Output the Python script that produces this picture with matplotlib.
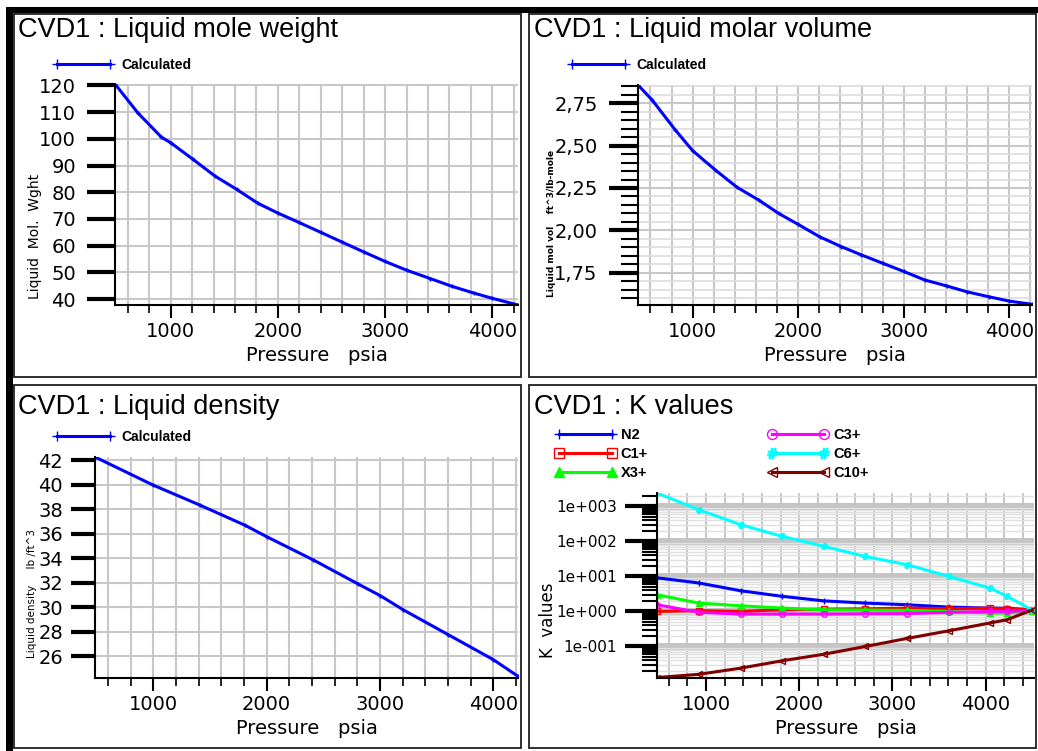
import matplotlib
matplotlib.use("Agg")
import matplotlib.pyplot as plt
import numpy as np
from matplotlib.patches import Rectangle
from matplotlib.ticker import MultipleLocator, FixedLocator, FuncFormatter, NullFormatter

# ---- data ----
mw_p = [480, 695, 913, 1000, 1208, 1411, 1614, 1816, 2000, 2196, 2399, 2601, 2804, 3000, 3202, 3421, 3623, 3825, 4000, 4240]
mw = [120.5, 109.6, 100.6, 98.5, 92.3, 86.1, 81.1, 75.8, 72.2, 68.7, 65.0, 61.3, 57.6, 54.1, 50.8, 47.7, 44.8, 42.3, 40.3, 37.8]

mv_p = [482, 615, 836, 1000, 1215, 1420, 1625, 1814, 2000, 2202, 2407, 2597, 2803, 3000, 3202, 3410, 3598, 3804, 4000, 4215]
mv = [2.858, 2.77, 2.592, 2.47, 2.356, 2.254, 2.179, 2.10, 2.035, 1.962, 1.904, 1.855, 1.805, 1.757, 1.706, 1.671, 1.637, 1.608, 1.582, 1.563]

den_p = [485, 1000, 1412, 1809, 2000, 2412, 2809, 3000, 3206, 3603, 4000, 4218]
den = [42.27, 39.97, 38.34, 36.7, 35.77, 33.87, 31.9, 30.97, 29.8, 27.77, 25.74, 24.38]

k_p = [475, 920, 1370, 1815, 2265, 2710, 3160, 3605, 4050, 4230, 4500]
k_n2 = [9.1, 6.5, 3.9, 2.7, 2.0, 1.73, 1.55, 1.33, 1.24, 1.24, 1.1]
k_c1 = [1.0, 1.05, 1.0, 1.12, 1.17, 1.19, 1.24, 1.2, 1.24, 1.2, 1.1]
k_x3 = [3.0, 1.73, 1.45, 1.25, 1.12, 1.1, 1.07, 1.0, 0.9, 0.9, 1.05]
k_c3 = [1.55, 0.95, 0.84, 0.84, 0.84, 0.86, 0.87, 0.94, 1.0, 1.0, 1.07]
k_c6 = [2400, 800, 300, 139, 72, 37, 21.5, 10, 4.6, 2.7, 1.1]
k_c10 = [0.013, 0.016, 0.024, 0.039, 0.060, 0.10, 0.17, 0.28, 0.47, 0.58, 1.1]

W, H = 1038, 751
fig = plt.figure(figsize=(W / 100, H / 100), dpi=100)
fig.patch.set_facecolor("white")

GRID = "#c8c8c8"
TICKF = "DejaVu Sans"
TITLEF = "Liberation Sans"


def fx(x):
    return x / W


def fy(y):
    return 1 - y / H


def box(x0, y0, x1, y1, **kw):
    fig.add_artist(Rectangle((fx(x0), fy(y1)), fx(x1) - fx(x0), fy(y0) - fy(y1),
                             transform=fig.transFigure, **kw))


def make_ax(l, t, r, b):
    return fig.add_axes([fx(l), fy(b), fx(r) - fx(l), fy(t) - fy(b)])


def style(ax, ylen, ypad):
    for s in ["top", "right"]:
        ax.spines[s].set_visible(False)
    for s in ["left", "bottom"]:
        ax.spines[s].set_linewidth(1.5)
    ax.set_axisbelow(True)
    ax.xaxis.set_major_locator(MultipleLocator(1000))
    ax.xaxis.set_minor_locator(MultipleLocator(200))
    ax.tick_params(axis="x", which="major", length=9, width=1.5, pad=3, labelsize=14)
    ax.tick_params(axis="x", which="minor", length=6, width=1.2)
    ax.tick_params(axis="y", which="major", length=ylen, width=3, pad=ypad, labelsize=14)
    ax.grid(True, axis="x", which="both", color=GRID, lw=1.5)
    ax.grid(True, axis="y", which="major", color=GRID, lw=1.5)
    for lab in ax.get_xticklabels() + ax.get_yticklabels():
        lab.set_fontfamily(TICKF)
    ax.set_xlabel("Pressure   psia", fontsize=14, family=TICKF, labelpad=4)


def calc_legend(ax, x, y):
    ax.legend(loc="center left", bbox_to_anchor=(fx(x), fy(y)), bbox_transform=fig.transFigure,
              frameon=False, handlelength=4.4, numpoints=2, borderpad=0, markerscale=2.2,
              handletextpad=0.5, borderaxespad=0,
              prop={"family": "Liberation Sans", "weight": "bold", "size": 10})


# panel frames
box(6, 7, 13, 751, color="black", lw=0)
box(6, 7, 1038, 13, color="black", lw=0)
for (x0, y0, x1, y1) in [(14, 14, 521, 377), (529, 14, 1036, 377), (14, 385, 521, 748), (529, 385, 1036, 748)]:
    box(x0, y0, x1, y1, fill=False, ec="#202020", lw=1.3)

# ---- panel 1 : liquid mole weight ----
ax1 = make_ax(115, 84, 518, 305)
ax1.plot(mw_p, mw, color="#0000ff", lw=2.2, marker="+", ms=3, mew=1, label="Calculated")
ax1.set_xlim(mw_p[0], mw_p[-1])
ax1.set_ylim(37.8, 120.5)
ax1.set_yticks([40, 50, 60, 70, 80, 90, 100, 110, 120])
style(ax1, 20, 8)
calc_legend(ax1, 53, 65)
fig.text(fx(18), fy(30), "CVD1 : Liquid mole weight", fontsize=19.5, family=TITLEF, va="center")
fig.text(fx(35), fy(236), "Liquid  Mol.  Wght", fontsize=10, family=TICKF, rotation=90, ha="center", va="center")

# ---- panel 2 : liquid molar volume ----
ax2 = make_ax(638, 85, 1032, 305)
ax2.plot(mv_p, mv, color="#0000ff", lw=2.2, marker="+", ms=3, mew=1, label="Calculated")
ax2.set_xlim(mv_p[0], mv_p[-1])
ax2.set_ylim(1.559, 2.858)
ax2.set_yticks([1.75, 2.0, 2.25, 2.5, 2.75])
ax2.yaxis.set_minor_locator(MultipleLocator(0.05))
ax2.yaxis.set_major_formatter(FuncFormatter(lambda v, p: f"{v:.2f}".replace(".", ",")))
style(ax2, 21, 8)
ax2.tick_params(axis="y", which="minor", length=12, width=1.5)
ax2.grid(True, axis="y", which="minor", color="#dcdcdc", lw=1.2)
calc_legend(ax2, 568, 65)
fig.text(fx(534), fy(30), "CVD1 : Liquid molar volume", fontsize=19.5, family=TITLEF, va="center")
fig.text(fx(551), fy(223), "Liquid mol vol    ft^3/lb-mole", fontsize=6.5, family=TICKF, rotation=90,
         ha="center", va="center", weight="bold")

# ---- panel 3 : liquid density ----
ax3 = make_ax(95, 457, 518, 678)
ax3.plot(den_p, den, color="#0000ff", lw=2.2, marker="+", ms=3, mew=1, label="Calculated")
ax3.set_xlim(den_p[0], den_p[-1])
ax3.set_ylim(24.24, 42.27)
ax3.set_yticks([26, 28, 30, 32, 34, 36, 38, 40, 42])
style(ax3, 17, 6)
calc_legend(ax3, 53, 437)
fig.text(fx(18), fy(407), "CVD1 : Liquid density", fontsize=19.5, family=TITLEF, va="center")
fig.text(fx(32), fy(593), "Liquid density     lb /ft^3", fontsize=7.5, family=TICKF, rotation=90,
         ha="center", va="center")

# ---- panel 4 : K values ----
ax4 = make_ax(657, 493, 1034, 678)
series = [
    ("N2", k_n2, "#0000ff", "+", "full"),
    ("C1+", k_c1, "#ff0000", "s", "none"),
    ("X3+", k_x3, "#00ff00", "^", "full"),
    ("C3+", k_c3, "#ff00ff", "o", "none"),
    ("C6+", k_c6, "#00ffff", "$\\#$", "full"),
    ("C10+", k_c10, "#800000", "<", "none"),
]
for name, vals, col, mk, fill in series:
    ax4.plot(k_p, vals, color=col, lw=2.2, marker=mk, ms=4, mew=1.0, fillstyle=fill, label=name)
ax4.set_yscale("log")
ax4.set_xlim(474, 4519)
ax4.set_ylim(10 ** -1.9, 10 ** 3.38)
for s in ["top", "right"]:
    ax4.spines[s].set_visible(False)
for s in ["left", "bottom"]:
    ax4.spines[s].set_linewidth(1.5)
ax4.set_axisbelow(True)
ax4.xaxis.set_major_locator(MultipleLocator(1000))
ax4.xaxis.set_minor_locator(MultipleLocator(200))
ax4.yaxis.set_major_locator(FixedLocator([0.1, 1, 10, 100, 1000]))
ax4.yaxis.set_major_formatter(FuncFormatter(
    lambda v, p: "1e%s%03d" % ("+" if v >= 1 else "-", abs(int(round(np.log10(v)))))))
ax4.yaxis.set_minor_locator(FixedLocator([m * 10.0 ** e for e in range(-2, 4) for m in range(2, 10)]))
ax4.yaxis.set_minor_formatter(NullFormatter())
ax4.tick_params(axis="x", which="major", length=9, width=1.5, pad=3, labelsize=14)
ax4.tick_params(axis="x", which="minor", length=6, width=1.2)
ax4.tick_params(axis="y", which="major", length=23, width=3, pad=6, labelsize=11)
ax4.tick_params(axis="y", which="minor", length=11, width=1.5)
ax4.grid(True, axis="x", which="both", color=GRID, lw=1.5)
ax4.grid(True, axis="y", which="major", color="#c4c4c4", lw=5)
ax4.grid(True, axis="y", which="minor", color="#e0e0e0", lw=1.0)
for lab in ax4.get_xticklabels() + ax4.get_yticklabels():
    lab.set_fontfamily(TICKF)
ax4.set_xlabel("Pressure   psia", fontsize=14, family=TICKF, labelpad=4)
ax4.legend(loc="upper left", bbox_to_anchor=(fx(555), fy(428)), bbox_transform=fig.transFigure,
           ncol=2, frameon=False, handlelength=4.2, numpoints=2, borderpad=0, borderaxespad=0,
           handletextpad=0.3, columnspacing=8.2, labelspacing=0.35, markerscale=1.8,
           prop={"family": "Liberation Sans", "weight": "bold", "size": 10.5})
fig.text(fx(534), fy(407), "CVD1 : K values", fontsize=19.5, family=TITLEF, va="center")
fig.text(fx(548), fy(620), "K  values", fontsize=12, family=TICKF, rotation=90, ha="center", va="center")

fig.savefig("out.png", dpi=100, facecolor="white")
